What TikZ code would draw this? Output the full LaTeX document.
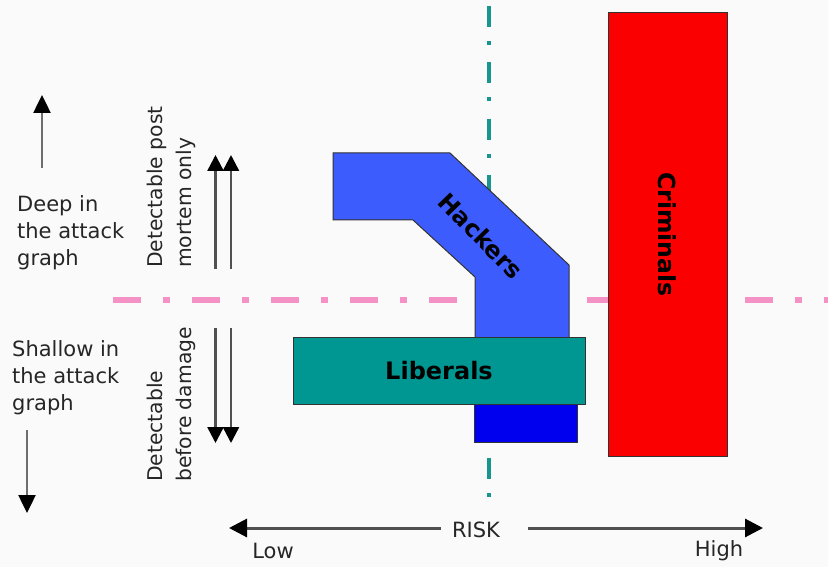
\documentclass[tikz,border=0pt]{standalone}
\usepackage{fontspec}
\setmainfont{DejaVu Sans}
\usetikzlibrary{arrows.meta}

\definecolor{bgcol}{HTML}{FAFAFA}
\definecolor{pinkline}{RGB}{244,146,198}
\definecolor{tealline}{RGB}{22,150,143}
\definecolor{hackblue}{RGB}{61,92,254}
\definecolor{deepblue}{RGB}{0,0,238}
\definecolor{libteal}{RGB}{0,150,145}
\definecolor{crimred}{RGB}{250,0,0}
\definecolor{edgegray}{RGB}{50,50,50}
\definecolor{shaftgray}{RGB}{110,110,110}
\definecolor{darkshaft}{RGB}{80,80,80}

\begin{document}
\begin{tikzpicture}[x=1pt,y=-1pt,
  shapeedge/.style={draw=edgegray, line width=1pt},
  sidetext/.style={font=\fontsize{21}{27}\selectfont, align=left, inner sep=0pt, text=black!85},
  vlabel/.style={font=\fontsize{20.3}{29}\selectfont, align=left, inner sep=0pt, rotate=90, anchor=north west, text=black!85},
  axislabel/.style={font=\fontsize{21}{25}\selectfont, inner sep=0pt, text=black!85},
  boldlabel/.style={font=\fontsize{24}{28}\selectfont\bfseries, inner sep=0pt, text=black},
  sarrow/.style={draw=shaftgray, line width=2.5pt, -{Triangle[length=18pt,width=17pt,color=black,fill=black]}},
  darrow/.style={draw=darkshaft, line width=2.5pt, -{Triangle[length=16pt,width=16pt,color=black,fill=black]}},
  riskarrow/.style={draw=darkshaft, line width=3pt, -{Triangle[length=18pt,width=18pt,color=black,fill=black]}}
]
% canvas
\path[use as bounding box, fill=bgcol] (0,0) rectangle (828,567);

% dash-dot guide lines
\draw[pinkline, line width=6pt, dash pattern=on 28pt off 22pt on 7pt off 22pt] (113,300) -- (828,300);
\draw[tealline, line width=4pt, dash pattern=on 21pt off 14pt on 4pt off 17.5pt] (489,6) -- (489,500);

% criminals bar
\node[shapeedge, fill=crimred, rotate=-90, minimum width=443pt, minimum height=119pt,
      boldlabel, font=\fontsize{23.5}{28}\selectfont\bfseries] (crim) at (667.5,234.5) {Criminals};

% hackers bent band
\draw[shapeedge, fill=hackblue] (333,153) -- (450,153) -- (569,265) -- (569,338)
   -- (475,338) -- (475,277) -- (413,220) -- (333,220) -- cycle;
\node[boldlabel, rotate=-46] (hack) at (481,236) {Hackers};
\draw[shapeedge, fill=deepblue] (474,400) rectangle (577,442);

% liberals bar
\node[shapeedge, fill=libteal, minimum width=292pt, minimum height=67pt, boldlabel] (lib) at (439,370.5) {Liberals};

% depth labels and arrows
\node[sidetext, anchor=north west] (deep) at (17,195) {Deep in\\the attack\\graph};
\node[sidetext, anchor=north west] (shallow) at (12,340) {Shallow in\\the attack\\graph};
\coordinate (upbase) at (42,168);
\coordinate (uptip) at (42,95);
\draw[sarrow] (upbase) -- (uptip);
\coordinate (downbase) at (27,430);
\coordinate (downtip) at (27,513);
\draw[sarrow] (downbase) -- (downtip);

% detectability labels and paired arrows
\node[vlabel] (postmortem) at (147,268) {Detectable post\\mortem only};
\node[vlabel] (beforedmg) at (147,482) {Detectable\\before damage};
\coordinate (pa1) at (215.5,269);
\coordinate (pa1t) at (215.5,155);
\coordinate (pa2) at (231,269);
\coordinate (pa2t) at (231,155);
\draw[darrow] (pa1) -- (pa1t);
\draw[darrow] (pa2) -- (pa2t);
\coordinate (pb1) at (215.5,328);
\coordinate (pb1t) at (215.5,443);
\coordinate (pb2) at (231,328);
\coordinate (pb2t) at (231,443);
\draw[darrow] (pb1) -- (pb1t);
\draw[darrow] (pb2) -- (pb2t);

% risk axis
\node[axislabel] (risk) at (476,530) {RISK};
\node[axislabel] (low) at (273,551) {Low};
\node[axislabel] (high) at (719,551) {High};
\coordinate (riskl) at (441,528);
\coordinate (lowtip) at (229,528);
\coordinate (riskr) at (528,528);
\coordinate (hightip) at (763,528);
\draw[riskarrow] (riskl) -- (lowtip);
\draw[riskarrow] (riskr) -- (hightip);
\end{tikzpicture}
\end{document}
